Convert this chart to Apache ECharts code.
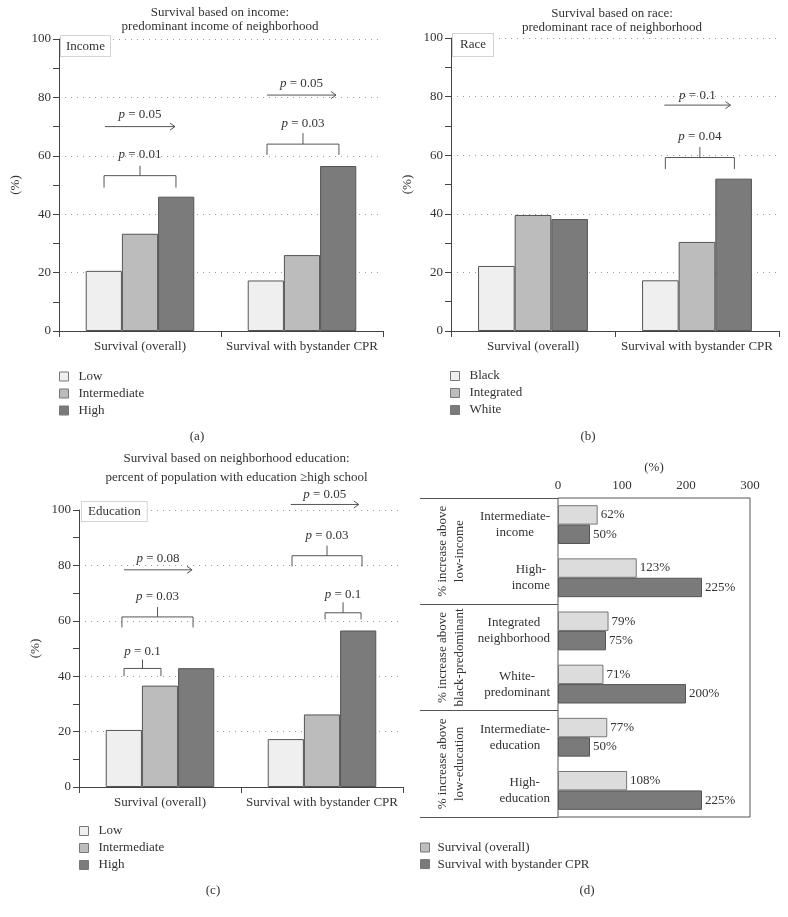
<!DOCTYPE html>
<html><head><meta charset="utf-8">
<script src="https://cdn.jsdelivr.net/npm/echarts@6/dist/echarts.min.js"></script>
<style>html,body{margin:0;padding:0;background:#fff}#c{width:788px;height:917px}</style>
</head><body><div id="c"></div>
<script>
// ---------- data ----------
const groupCats = ['Survival (overall)', 'Survival with bystander CPR'];
const incomeLevels = ['Low', 'Intermediate', 'High'];
const incomeLow = [20.6, 17.3];
const incomeInt = [33.3, 26.0];
const incomeHigh = [46.0, 56.5];
const raceLevels = ['Black', 'Integrated', 'White'];
const raceBlack = [22.2, 17.3];
const raceInt = [39.6, 30.4];
const raceWhite = [38.2, 52.0];
const eduLevels = ['Low', 'Intermediate', 'High'];
const eduLow = [20.6, 17.3];
const eduInt = [36.6, 26.2];
const eduHigh = [42.9, 56.5];

const incCats = ['Intermediate-\nincome', 'High-\nincome', 'Integrated\nneighborhood', 'White-\npredominant', 'Intermediate-\neducation', 'High-\neducation'];
const incGroups = ['% increase above\nlow-income', '% increase above\nblack-predominant', '% increase above\nlow-education'];
const incSeries = ['Survival (overall)', 'Survival with bystander CPR'];
const incOverall = [62, 123, 79, 71, 77, 108];
const incCPR = [50, 225, 75, 200, 50, 225];

// p-value annotations: [kind, x1, x2, y, legY, stemY, labelY, p]  (x in category-band units, y in %)
const annIncome = [
  ['bracket', 0.278, 0.722, 53.2, 49.1, 56.6, 60.3, '0.01'],
  ['arrow', 0.284, 0.716, 70.0, null, null, 74.0, '0.05'],
  ['bracket', 1.284, 1.728, 64.0, 60.3, 67.8, 70.9, '0.03'],
  ['arrow', 1.284, 1.710, 80.8, null, null, 84.6, '0.05']
];
const annRace = [
  ['bracket', 1.307, 1.728, 59.2, 55.3, 62.8, 66.3, '0.04'],
  ['arrow', 1.301, 1.704, 77.1, null, null, 80.5, '0.1']
];
const annEdu = [
  ['bracket', 0.278, 0.506, 42.8, 40.0, 46.0, 49.0, '0.1'],
  ['bracket', 0.265, 0.704, 61.4, 57.6, 65.0, 68.9, '0.03'],
  ['arrow', 0.278, 0.698, 78.4, null, null, 82.5, '0.08'],
  ['bracket', 1.519, 1.741, 62.9, 60.5, 66.7, 69.6, '0.1'],
  ['bracket', 1.315, 1.747, 83.5, 79.6, 87.1, 90.6, '0.03'],
  ['arrow', 1.307, 1.727, 102.0, null, null, 105.6, '0.05']
];

// ---------- styles ----------
const F = '"Liberation Serif", "Times New Roman", serif';
const TXT = '#333';
const LINE = '#444';
const C1 = '#efefef', C2 = '#bcbcbc', C3 = '#7b7b7b';
const BORDER = '#555';

const chart = echarts.init(document.getElementById('c'), null, {renderer: 'canvas'});

function valueY(gridIndex) {
  return {
    type: 'value', gridIndex, min: 0, max: 100, interval: 20,
    name: '(%)', nameLocation: 'middle', nameRotate: 90, nameGap: 37,
    nameTextStyle: {fontFamily: F, fontSize: 13, color: TXT},
    axisLine: {show: true, lineStyle: {color: LINE, width: 1}},
    axisTick: {show: true, length: 6, lineStyle: {color: LINE}},
    minorTick: {show: true, splitNumber: 2, length: 6, lineStyle: {color: LINE}},
    axisLabel: {margin: 8, fontFamily: F, fontSize: 13, color: TXT},
    splitLine: {show: true, lineStyle: {color: '#999', width: 1, type: [1, 5]}}
  };
}
function catX(gridIndex) {
  return {
    type: 'category', gridIndex, data: groupCats,
    axisLine: {show: true, lineStyle: {color: LINE, width: 1}},
    axisTick: {show: true, length: 6, lineStyle: {color: LINE}},
    axisLabel: {margin: 9, fontFamily: F, fontSize: 13, color: TXT, interval: 0},
    splitLine: {show: false}
  };
}
function hiddenX(gridIndex) {
  return {type: 'value', gridIndex, min: 0, max: 2, show: false};
}
function bar(name, data, color, xi, yi) {
  return {
    type: 'bar', name, data, xAxisIndex: xi, yAxisIndex: yi,
    barGap: 0, barCategoryGap: '33%',
    itemStyle: {color, borderColor: BORDER, borderWidth: 1},
    emphasis: {disabled: true}, animation: false
  };
}
function makeAnn(list) {
  return function (params, api) {
    const a = list[params.dataIndex];
    const kind = a[0], x1 = a[1], x2 = a[2], y = a[3], leg = a[4], stem = a[5], ly = a[6], p = a[7];
    const P1 = api.coord([x1, y]), P2 = api.coord([x2, y]);
    const st = {stroke: '#555', lineWidth: 1, fill: null};
    const children = [];
    if (kind === 'arrow') {
      children.push({type: 'line', shape: {x1: P1[0], y1: P1[1], x2: P2[0], y2: P2[1]}, style: st});
      children.push({type: 'polyline', shape: {points: [[P2[0] - 5, P2[1] - 3.5], [P2[0], P2[1]], [P2[0] - 5, P2[1] + 3.5]]}, style: st});
    } else {
      const L = api.coord([x1, leg])[1];
      const S = api.coord([x1, stem])[1];
      children.push({type: 'polyline', shape: {points: [[P1[0], L], [P1[0], P1[1]], [P2[0], P2[1]], [P2[0], L]]}, style: st});
      const xm = (P1[0] + P2[0]) / 2;
      children.push({type: 'line', shape: {x1: xm, y1: P1[1], x2: xm, y2: S}, style: st});
    }
    const Ly = api.coord([x1, ly])[1];
    children.push({
      type: 'text', x: (P1[0] + P2[0]) / 2, y: Ly,
      style: {
        text: '{i|p} = ' + p, align: 'center', verticalAlign: 'middle',
        fontFamily: F, fontSize: 13, fill: TXT,
        rich: {i: {fontStyle: 'italic', fontFamily: F, fontSize: 13, fill: TXT}}
      }
    });
    return {type: 'group', children};
  };
}
function annSeries(list, xi, yi) {
  return {
    type: 'custom', xAxisIndex: xi, yAxisIndex: yi, clip: false, silent: true, z: 10,
    data: list.map(a => [a[1], a[3]]), renderItem: makeAnn(list), animation: false
  };
}
function legendFor(names, left, top, iconW, gap) {
  return {
    orient: 'vertical', left, top, padding: 0, itemGap: gap,
    itemWidth: iconW, itemHeight: 9,
    icon: 'path://M0,0L9,0L9,9L0,9ZM' + iconW + ',9',
    itemStyle: {borderColor: '#777', borderWidth: 1},
    textStyle: {fontFamily: F, fontSize: 13, color: TXT, lineHeight: 13},
    data: names, selectedMode: false
  };
}
function gtext(text, x, y, extra) {
  return {
    type: 'text', x, y, z: 100,
    style: Object.assign({text, fontFamily: F, fontSize: 13, fill: TXT, align: 'center', verticalAlign: 'middle'}, extra || {})
  };
}
function boxText(text, x, y, pad) {
  return {
    type: 'text', x, y, z: 100,
    style: {text, fontFamily: F, fontSize: 13, fill: TXT, align: 'left', verticalAlign: 'top',
      lineHeight: 13, padding: pad, backgroundColor: '#fff', borderColor: '#d4d4d4', borderWidth: 1}
  };
}

const catLabelRich = {a: {align: 'center', fontFamily: F, fontSize: 13, color: TXT, lineHeight: 16}};

const option = {
  backgroundColor: '#fff',
  animation: false,
  grid: [
    {left: 59, top: 39, width: 324, height: 292},
    {left: 451, top: 38, width: 328, height: 293},
    {left: 79, top: 510, width: 324, height: 277},
    {left: 558, top: 498, width: 192, height: 319, show: true, borderColor: '#555', borderWidth: 1, backgroundColor: 'transparent'}
  ],
  xAxis: [
    catX(0), hiddenX(0),
    catX(1), hiddenX(1),
    catX(2), hiddenX(2),
    {
      type: 'value', gridIndex: 3, position: 'top', min: 0, max: 300, interval: 100,
      name: '(%)', nameLocation: 'middle', nameGap: 24,
      nameTextStyle: {fontFamily: F, fontSize: 13, color: TXT},
      axisLine: {show: false}, axisTick: {show: false}, splitLine: {show: false},
      axisLabel: {margin: 6, fontFamily: F, fontSize: 13, color: TXT}
    }
  ],
  yAxis: [
    valueY(0), valueY(1), valueY(2),
    {
      type: 'category', gridIndex: 3, data: incCats, inverse: true,
      axisLine: {show: false}, axisTick: {show: false},
      axisLabel: {
        margin: 8, interval: 0,
        formatter: v => v.split('\n').map(s => '{a|' + s + '}').join('\n'),
        rich: catLabelRich
      }
    },
    {
      type: 'category', gridIndex: 3, data: incGroups, inverse: true, position: 'left', offset: 138,
      axisLine: {show: false},
      axisTick: {show: true, inside: true, length: 138, interval: 0, lineStyle: {color: '#555'}},
      axisLabel: {inside: true, rotate: 90, margin: 14, interval: 0, fontFamily: F, fontSize: 13, color: TXT, lineHeight: 17}
    }
  ],
  legend: [
    legendFor(incomeLevels, 59, 370, 14, 4),
    legendFor(raceLevels, 450, 369.5, 14, 4),
    Object.assign(legendFor(eduLevels, 79, 824.5, 14, 4), {}),
    Object.assign(legendFor([{name: incSeries[0], itemStyle: {color: '#bdbdbd'}}, {name: incSeries[1]}], 420, 841, 12, 3.6), {})
  ],
  graphic: [
    gtext('Survival based on income:\npredominant income of neighborhood', 220, 20, {lineHeight: 14}),
    gtext('Survival based on race:\npredominant race of neighborhood', 612, 21, {lineHeight: 14}),
    gtext('Survival based on neighborhood education:\npercent of population with education \u2265high school', 236.5, 468.3, {lineHeight: 18.7}),
    gtext('(a)', 197, 436.7),
    gtext('(b)', 588, 436.5),
    gtext('(c)', 213, 891),
    gtext('(d)', 587, 891),
    boxText('Income', 61, 36, [4, 5, 3, 5]),
    boxText('Race', 453, 34, [4, 7, 5, 7]),
    boxText('Education', 82, 502, [3, 6, 3, 6])
  ],
  series: [
    bar(incomeLevels[0], incomeLow, C1, 0, 0),
    bar(incomeLevels[1], incomeInt, C2, 0, 0),
    bar(incomeLevels[2], incomeHigh, C3, 0, 0),
    annSeries(annIncome, 1, 0),
    bar(raceLevels[0], raceBlack, C1, 2, 1),
    bar(raceLevels[1], raceInt, C2, 2, 1),
    bar(raceLevels[2], raceWhite, C3, 2, 1),
    annSeries(annRace, 3, 1),
    bar(eduLevels[0], eduLow, C1, 4, 2),
    bar(eduLevels[1], eduInt, C2, 4, 2),
    bar(eduLevels[2], eduHigh, C3, 4, 2),
    annSeries(annEdu, 5, 2),
    {
      type: 'bar', name: incSeries[0], data: incOverall, xAxisIndex: 6, yAxisIndex: 3,
      barGap: 0, barCategoryGap: '27%',
      itemStyle: {color: '#dcdcdc', borderColor: '#777', borderWidth: 1},
      label: {show: true, position: 'right', distance: 3, formatter: '{c}%', fontFamily: F, fontSize: 13, color: TXT},
      emphasis: {disabled: true}
    },
    {
      type: 'bar', name: incSeries[1], data: incCPR, xAxisIndex: 6, yAxisIndex: 3,
      barGap: 0, barCategoryGap: '27%',
      itemStyle: {color: '#7a7a7a', borderColor: '#555', borderWidth: 1},
      label: {show: true, position: 'right', distance: 3, formatter: '{c}%', fontFamily: F, fontSize: 13, color: TXT},
      emphasis: {disabled: true}
    }
  ]
};
chart.setOption(option);
</script>
</body></html>
